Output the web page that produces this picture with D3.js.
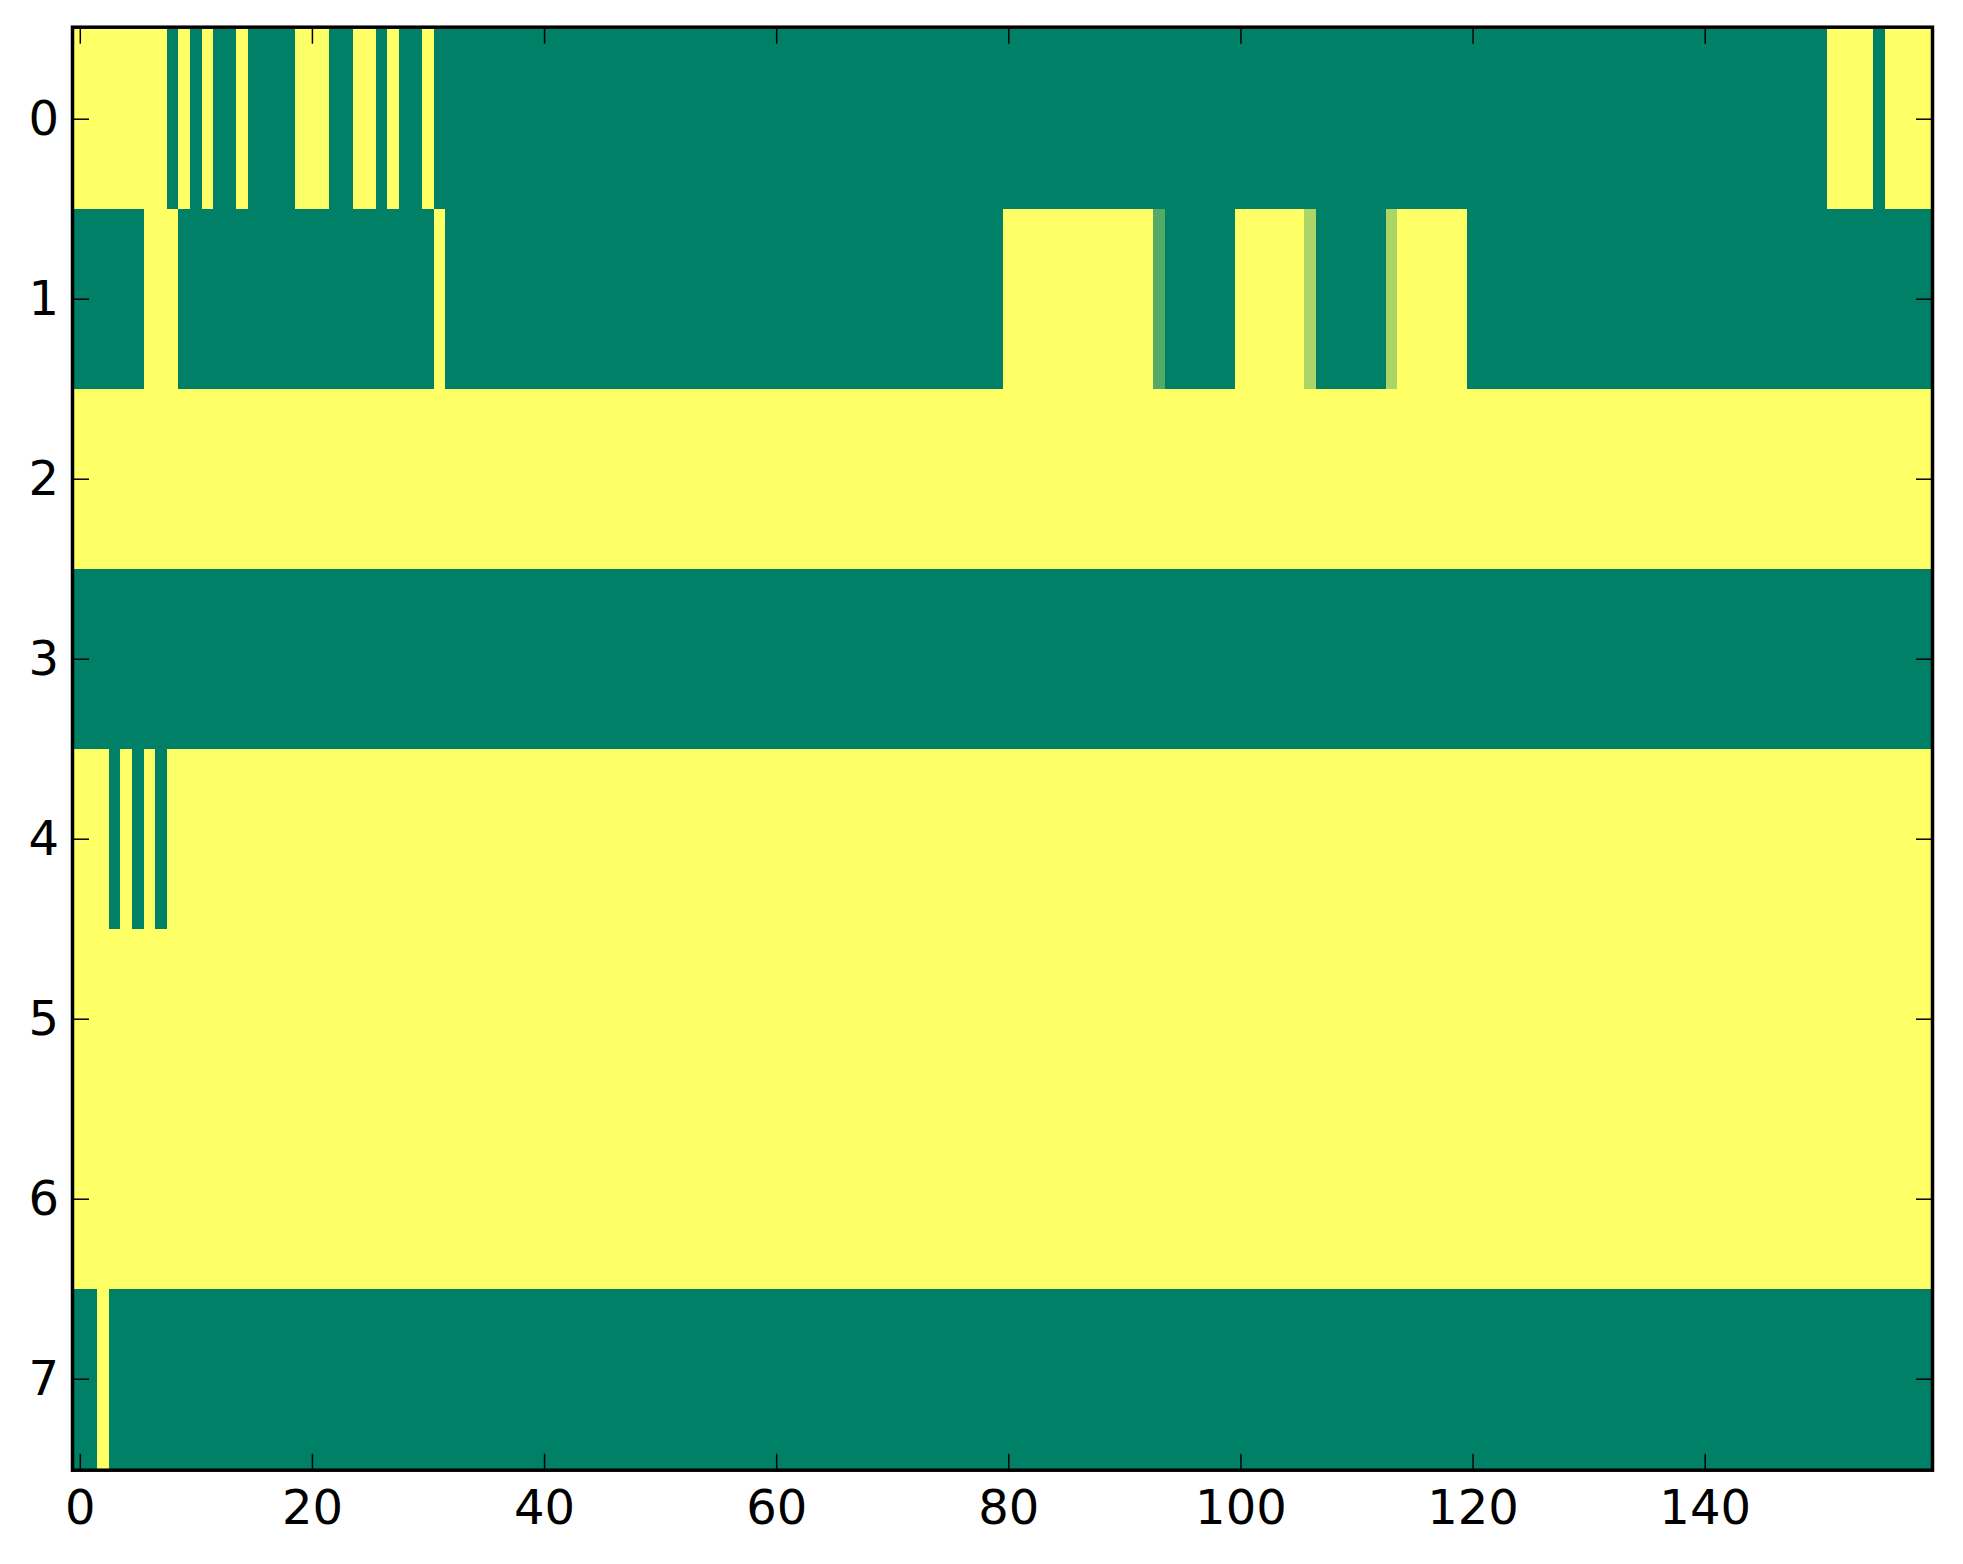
<!DOCTYPE html>
<html>
<head>
<meta charset="utf-8">
<script src="https://cdn.jsdelivr.net/npm/d3@7"></script>
<style>
  body { margin: 0; background: #fff; }
  svg { display: block; font-family: "DejaVu Sans", sans-serif; }
</style>
</head>
<body>
<svg id="chart" width="1963" height="1564"></svg>
<script>
// each row as runs of [value, count] left to right
var row0 = [[1,8],[0,1],[1,1],[0,1],[1,1],[0,2],[1,1],[0,4],[1,3],[0,2],[1,2],[0,1],[1,1],[0,2],[1,1],[0,120],[1,4],[0,1],[1,4]];
var row1 = [[0,6],[1,3],[0,22],[1,1],[0,48],[1,13],[0.33,1],[0,6],[1,6],[0.67,1],[0,6],[0.67,1],[1,6],[0,40]];
var row2 = [[1,160]];
var row3 = [[0,160]];
var row4 = [[1,3],[0,1],[1,1],[0,1],[1,1],[0,1],[1,152]];
var row5 = [[1,160]];
var row6 = [[1,160]];
var row7 = [[0,2],[1,1],[0,157]];

var rows = [row0, row1, row2, row3, row4, row5, row6, row7];
var nCols = 160;
var xTicks = [0, 20, 40, 60, 80, 100, 120, 140];
var yTicks = [0, 1, 2, 3, 4, 5, 6, 7];

// plot box (window.top is reserved, so no plain "top")
var plotL = 74, plotR = 1931, plotT = 28.7, plotB = 1468.7;

var svg = d3.select("#chart");

var x = d3.scaleLinear().domain([-0.5, nCols - 0.5]).range([plotL, plotR]);
var y = d3.scaleLinear().domain([-0.5, rows.length - 0.5]).range([plotT, plotB]);

// summer colormap
var color = d3.scaleLinear().domain([0, 1])
  .range(["#008066", "#ffff66"])
  .interpolate(d3.interpolateRgb);

// turn runs into segments with a start column
var segs = [];
rows.forEach(function(r, ri){
  var start = 0;
  r.forEach(function(run){
    segs.push({row: ri, start: start, count: run[1], v: run[0]});
    start += run[1];
  });
});

svg.append("g").selectAll("rect")
  .data(segs)
  .enter()
  .append("rect")
  .attr("x", function(s){ return x(s.start - 0.5); })
  .attr("y", function(s){ return y(s.row - 0.5); })
  .attr("width", function(s){ return x(s.start + s.count - 0.5) - x(s.start - 0.5); })
  .attr("height", function(s){ return y(s.row + 0.5) - y(s.row - 0.5); })
  .attr("fill", function(s){ return color(s.v); })
  .attr("shape-rendering", "crispEdges");

function style_axis(g){
  g.select(".domain").remove();
  g.selectAll(".tick line").attr("stroke", "#000").attr("stroke-width", 1.5);
  g.selectAll(".tick text").attr("fill", "#000").style("font-size", "48px")
    .style("font-family", "DejaVu Sans");
}

svg.append("g")
  .attr("transform", "translate(0," + plotB + ")")
  .call(d3.axisBottom(x).tickValues(xTicks).tickSizeInner(-15).tickSizeOuter(0).tickPadding(21))
  .call(style_axis);

svg.append("g")
  .attr("transform", "translate(0," + plotT + ")")
  .call(d3.axisTop(x).tickValues(xTicks).tickSizeInner(-15).tickSizeOuter(0).tickFormat(""))
  .call(style_axis);

svg.append("g")
  .attr("transform", "translate(" + plotL + ",0)")
  .call(d3.axisLeft(y).tickValues(yTicks).tickSizeInner(-15).tickSizeOuter(0).tickPadding(15))
  .call(style_axis);

svg.append("g")
  .attr("transform", "translate(" + plotR + ",0)")
  .call(d3.axisRight(y).tickValues(yTicks).tickSizeInner(-15).tickSizeOuter(0).tickFormat(""))
  .call(style_axis);

// frame
svg.append("rect")
  .attr("x", plotL - 1.5)
  .attr("y", plotT - 1.5)
  .attr("width", plotR - plotL + 3)
  .attr("height", plotB - plotT + 3)
  .attr("fill", "none")
  .attr("stroke", "#000")
  .attr("stroke-width", 3.5);
</script>
</body>
</html>
